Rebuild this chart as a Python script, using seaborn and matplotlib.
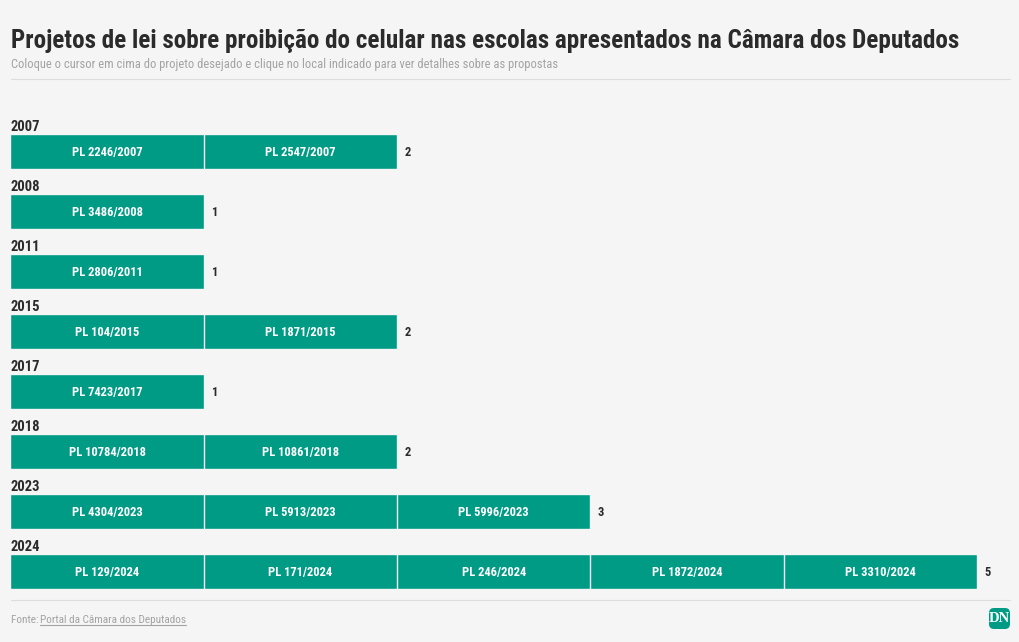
import matplotlib
matplotlib.use("Agg")
import matplotlib.pyplot as plt
from matplotlib import font_manager as fm
from matplotlib.patches import FancyBboxPatch
from matplotlib.lines import Line2D
from matplotlib.transforms import IdentityTransform
import pandas as pd
import seaborn as sns

years = ["2007", "2008", "2011", "2015", "2017", "2018", "2023", "2024"]
projects = [
    ["PL 2246/2007", "PL 2547/2007"],
    ["PL 3486/2008"],
    ["PL 2806/2011"],
    ["PL 104/2015", "PL 1871/2015"],
    ["PL 7423/2017"],
    ["PL 10784/2018", "PL 10861/2018"],
    ["PL 4304/2023", "PL 5913/2023", "PL 5996/2023"],
    ["PL 129/2024", "PL 171/2024", "PL 246/2024", "PL 1872/2024", "PL 3310/2024"],
]
title = "Projetos de lei sobre proibição do celular nas escolas apresentados na Câmara dos Deputados"
subtitle = "Coloque o cursor em cima do projeto desejado e clique no local indicado para ver detalhes sobre as propostas"

W, H = 1020, 642
BG = "#f5f5f5"
GREEN = "#009b84"
DARK = "#2b2b2b"
GREY = "#a3a3a3"

sns.set_theme(style="white")
names = {f.name for f in fm.fontManager.ttflist}
narrow = [n for n in ["Roboto Condensed", "Liberation Sans Narrow", "Roboto"] if n in names]
plt.rcParams["font.family"] = narrow + ["DejaVu Sans"]

rows = []
for year, plist in zip(years, projects):
    for pos, name in enumerate(plist):
        rows.append({"year": year, "project": name, "pos": pos, "end": pos + 1})
df = pd.DataFrame(rows)

fig = plt.figure(figsize=(W / 100, H / 100), dpi=100, facecolor=BG)
ax = fig.add_axes([10.5 / W, 1 - 601.6 / H, 966.5 / W, 480 / H], facecolor="none")

# longest first, the shorter ones cover them so it reads as a stack
for pos in sorted(df["pos"].unique(), reverse=True):
    sub = df[df["pos"] == pos]
    sns.barplot(data=sub, x="end", y="year", order=years, color=GREEN, saturation=1,
                width=0.58, edgecolor="#f5f5f5", linewidth=1, errorbar=None, ax=ax)

ax.set_xlim(0, 5)
ax.set_ylim(7.5, -0.5)
ax.axis("off")

for i, (year, plist) in enumerate(zip(years, projects)):
    ax.annotate(year, (0, i), xytext=(0, 13), textcoords="offset points", ha="left", va="bottom",
                fontsize=10.5, fontweight="bold", color=DARK, annotation_clip=False)
    for pos, name in enumerate(plist):
        ax.annotate(name, (pos + 0.5, i), xytext=(0, 0.6), textcoords="offset points", ha="center",
                    va="center_baseline", fontsize=9, fontweight="bold", color="white")
    ax.annotate(str(len(plist)), (len(plist), i), xytext=(5.2, 0.6), textcoords="offset points",
                ha="left", va="center_baseline", fontsize=9, fontweight="bold", color=DARK,
                annotation_clip=False)

fig.text(11 / W, 1 - 48 / H, title, fontsize=18.05, fontweight="bold", color=DARK, ha="left", va="baseline")
fig.text(11 / W, 1 - 68 / H, subtitle, fontsize=9, color=GREY, ha="left", va="baseline")
fig.text(11 / W, 1 - 623 / H, "Fonte: ", fontsize=8.15, color=GREY, ha="left", va="baseline")
fig.text(40.5 / W, 1 - 623 / H, "Portal da Câmara dos Deputados", fontsize=8.15, color=GREY, ha="left", va="baseline")

for x0, x1, y, c in [(11, 1010, 79.5, "#dddddd"), (11, 1010, 600.5, "#dddddd"), (40.5, 186, 625.5, GREY)]:
    fig.add_artist(Line2D([x0 / W, x1 / W], [1 - (y - 0.5) / H, 1 - (y - 0.5) / H], color=c, lw=0.8))

logo = FancyBboxPatch((989, H - 629), 21, 21, boxstyle="round,pad=0,rounding_size=5",
                      transform=IdentityTransform(), facecolor=GREEN, edgecolor="none")
fig.add_artist(logo)
fig.text(999.5 / W, 1 - 619 / H, "DN", family="Liberation Serif", fontsize=10.5, fontweight="bold",
         color="white", ha="center", va="center")

fig.savefig("out.png", dpi=100, facecolor=BG)
